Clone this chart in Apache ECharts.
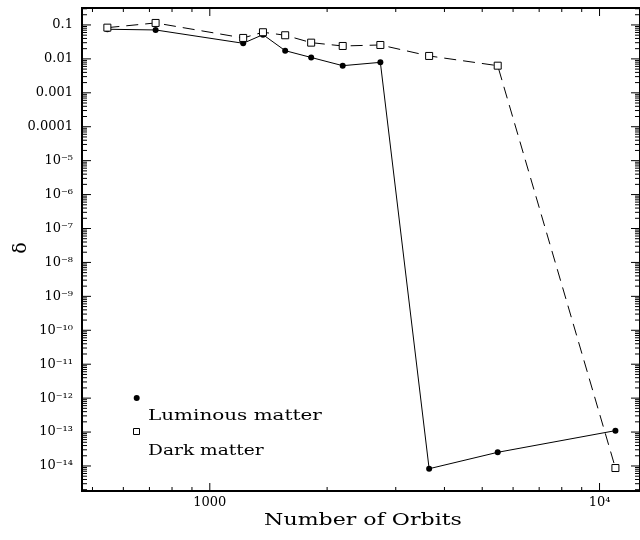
<!DOCTYPE html>
<html>
<head>
<meta charset="utf-8">
<script src="https://cdn.jsdelivr.net/npm/echarts@6/dist/echarts.min.js"></script>
<style>
  html, body { margin: 0; padding: 0; background: #fff; }
  #chart { width: 640px; height: 540px; }
</style>
</head>
<body>
<div id="chart"></div>
<script>
// Orbit counts at which the runs were sampled
const orbits = [546, 726, 1218, 1369, 1561, 1820, 2193, 2739, 3654, 5479, 10983];
// Relative deviation delta of the luminous component
const luminous = [0.0747, 0.0712, 0.0288, 0.0518, 0.01746, 0.0110, 0.0063, 0.0079, 8.3e-15, 2.53e-14, 1.1e-13];
// Relative deviation delta of the dark component
const dark = [0.0833, 0.1146, 0.0414, 0.061, 0.0497, 0.0301, 0.0240, 0.0257, 0.0122, 0.0063, 8.7e-15];

// Decade tick labels (exponent -> text)
const xTickExponents = [3, 4];
const xTickLabels = ['1000', '10⁴'];
const yTickExponents = [-1, -2, -3, -4, -5, -6, -7, -8, -9, -10, -11, -12, -13, -14];
const yTickLabels = ['0.1', '0.01', '0.001', '0.0001', '10⁻⁵', '10⁻⁶', '10⁻⁷', '10⁻⁸',
                     '10⁻⁹', '10⁻¹⁰', '10⁻¹¹', '10⁻¹²', '10⁻¹³', '10⁻¹⁴'];

// Axis extents (data units)
const xRange = [470, 12700];
const yRange = [1.83e-15, 0.316];
// Multiples inside a decade that carry a tick (1 = major)
const decadeSteps = [1, 2, 3, 4, 5, 6, 7, 8, 9];

const lg = Math.log10;
const INK = '#000';
const FONT = 'DejaVu Serif';
const xMin = lg(xRange[0]), xMax = lg(xRange[1]);
const yMin = lg(yRange[0]), yMax = lg(yRange[1]);

function decadeLabel(exps, labels) {
  return function (v) {
    const r = Math.round(v);
    if (Math.abs(v - r) > 1e-6) return '';
    const i = exps.indexOf(r);
    return i >= 0 ? labels[i] : '';
  };
}

// Log-spaced tick positions: [x, y, axis (0 = x, 1 = y), major flag]
function logTicks(lo, hi, axis) {
  const items = [];
  for (let n = Math.floor(lo); n <= Math.ceil(hi); n++) {
    decadeSteps.forEach(function (k) {
      const v = n + lg(k);
      if (v > lo + 1e-9 && v < hi - 1e-9) {
        items.push(axis === 0 ? [v, yMin, 0, k === 1 ? 1 : 0] : [xMin, v, 1, k === 1 ? 1 : 0]);
      }
    });
  }
  return items;
}
const tickItems = logTicks(xMin, xMax, 0).concat(logTicks(yMin, yMax, 1));

function tickLine(x1, y1, x2, y2) {
  return { type: 'line', shape: { x1: x1, y1: y1, x2: x2, y2: y2 }, style: { stroke: INK, lineWidth: 1 } };
}

// Inward ticks on all four sides of the frame
function renderTick(params, api) {
  const axis = api.value(2), major = api.value(3);
  if (axis === 0) {
    const len = major ? 8 : 4;
    const v = api.value(0);
    const b = api.coord([v, yMin]), t = api.coord([v, yMax]);
    return { type: 'group', children: [
      tickLine(b[0], b[1], b[0], b[1] - len),
      tickLine(t[0], t[1], t[0], t[1] + len)
    ] };
  }
  const len = major ? 9 : 5;
  const v = api.value(1);
  const l = api.coord([xMin, v]), r = api.coord([xMax, v]);
  return { type: 'group', children: [
    tickLine(l[0], l[1], l[0] + len, l[1]),
    tickLine(r[0], r[1], r[0] - len, r[1])
  ] };
}

const chart = echarts.init(document.getElementById('chart'), null, { renderer: 'canvas' });
chart.setOption({
  animation: false,
  backgroundColor: '#fff',
  grid: { left: 82, top: 8, right: -5, bottom: 49, containLabel: false,
          show: true, borderColor: INK, borderWidth: 2, backgroundColor: 'transparent' },
  xAxis: {
    type: 'value', min: xMin, max: xMax, minInterval: 1, maxInterval: 1,
    axisLine: { show: false, onZero: false },
    axisTick: { show: false },
    splitLine: { show: false },
    axisLabel: { show: true, margin: 5, color: INK, fontFamily: FONT, fontSize: 13,
                 formatter: decadeLabel(xTickExponents, xTickLabels),
                 showMinLabel: false, showMaxLabel: false }
  },
  yAxis: {
    type: 'value', min: yMin, max: yMax, minInterval: 1, maxInterval: 1,
    axisLine: { show: false, onZero: false },
    axisTick: { show: false },
    splitLine: { show: false },
    axisLabel: { show: true, margin: 9, color: INK, fontFamily: FONT, fontSize: 13,
                 formatter: decadeLabel(yTickExponents, yTickLabels),
                 showMinLabel: false, showMaxLabel: false }
  },
  series: [
    {
      name: 'ticks',
      type: 'custom',
      coordinateSystem: 'cartesian2d',
      encode: { x: 0, y: 1 },
      data: tickItems,
      renderItem: renderTick,
      silent: true,
      clip: false,
      z: 1
    },
    {
      name: 'Luminous matter',
      type: 'line',
      data: orbits.map(function (o, i) { return [lg(o), lg(luminous[i])]; }),
      symbol: 'circle',
      symbolSize: 6,
      showAllSymbol: true,
      itemStyle: { color: INK },
      lineStyle: { color: INK, width: 1 },
      z: 3
    },
    {
      name: 'Dark matter',
      type: 'line',
      data: orbits.map(function (o, i) { return [lg(o), lg(dark[i])]; }),
      symbol: 'rect',
      symbolSize: 7,
      showAllSymbol: true,
      itemStyle: { color: '#fff', borderColor: INK, borderWidth: 1 },
      lineStyle: { color: INK, width: 1, type: [12, 7] },
      z: 4
    }
  ],
  graphic: [
    // key
    { type: 'circle', shape: { cx: 136.7, cy: 398, r: 3 }, style: { fill: INK } },
    { type: 'rect', shape: { x: 133.5, y: 428.5, width: 6, height: 6 }, style: { fill: '#fff', stroke: INK, lineWidth: 1 } },
    { type: 'text', x: 148, y: 416.5, scaleX: 1.33,
      style: { text: 'Luminous matter', fontFamily: FONT, fontSize: 15, fill: INK, align: 'left', verticalAlign: 'middle' } },
    { type: 'text', x: 148, y: 451, scaleX: 1.24,
      style: { text: 'Dark matter', fontFamily: FONT, fontSize: 15, fill: INK, align: 'left', verticalAlign: 'middle' } },
    // axis titles
    { type: 'text', x: 363, y: 521, scaleX: 1.38,
      style: { text: 'Number of Orbits', fontFamily: FONT, fontSize: 16, fill: INK, align: 'center', verticalAlign: 'middle' } },
    { type: 'text', x: 21, y: 248, rotation: Math.PI / 2,
      style: { text: 'δ', fontFamily: FONT, fontSize: 19, fill: INK, align: 'center', verticalAlign: 'middle' } }
  ]
});
</script>
</body>
</html>
